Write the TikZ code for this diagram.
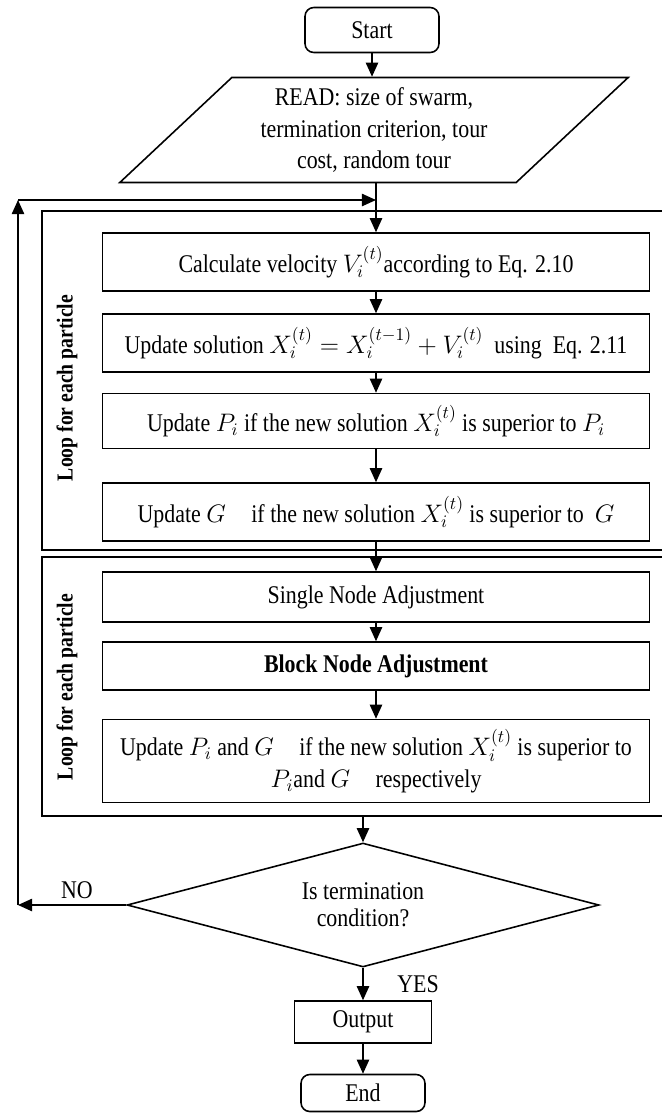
\documentclass[tikz,border=0pt]{standalone}
\usepackage{fontspec}
\setmainfont{Liberation Serif}[FakeStretch=0.86]
\usetikzlibrary{positioning,arrows.meta,shapes.geometric}

\newcommand\flowfont{\fontsize{14.5}{18}\selectfont}

\tikzset{
  base/.style={draw, line width=0.9pt, align=center, inner sep=2pt, font=\flowfont},
  procbox/.style={base, rectangle, minimum width=10.94cm},
  termbox/.style={base, rounded corners=5pt},
  iobox/.style={base, trapezium, trapezium left angle=45, trapezium right angle=135, trapezium stretches=true},
  decbox/.style={base, diamond, aspect=3.8, inner sep=0pt, font=\fontsize{14.5}{15.5}\selectfont},
  arr/.style={-{Triangle[length=8pt,width=7pt]}, line width=0.9pt},
  loopbox/.style={line width=0.9pt},
  looplab/.style={rotate=90, font=\fontsize{13}{15}\selectfont\bfseries},
  tag/.style={font=\flowfont}
}

\begin{document}
\begin{tikzpicture}[x=0.02cm, y=-0.02cm]
  \useasboundingbox (0,0) rectangle (662,1117);

  % loop frames
  \draw[loopbox] (664,211) -| (42,550) -- (664,550);
  \draw[loopbox] (664,557) -| (42,816) -- (664,816);
  \node[looplab] (lab1) at (67,388) {Loop for each particle};
  \node[looplab] (lab2) at (67,687) {Loop for each particle};

  % flow
  \node[termbox, minimum width=2.68cm, minimum height=0.9cm] (start) at (372,30) {Start};
  \node[iobox, minimum width=10.18cm, minimum height=2.1cm] (read) at (374,130)
    {READ: size of swarm,\\ termination criterion, tour\\ cost, random tour};
  \node[procbox, minimum height=1.16cm] (calc) at (376,262)
    {Calculate velocity $V_i^{(t)}$according to Eq. 2.10};
  \node[procbox, minimum height=1.16cm] (upd) at (376,343)
    {Update solution $X_i^{(t)} = X_i^{(t-1)} + V_i^{(t)}$\ \ using\ \ Eq. 2.11};
  \node[procbox, minimum height=1.1cm] (pbest) at (376,421)
    {Update $P_i$ if the new solution $X_i^{(t)}$ is superior to $P_i$};
  \node[procbox, minimum height=1.16cm] (gbest) at (376,512)
    {Update $G$\quad if the new solution $X_i^{(t)}$ is superior to\ \ $G$};
  \node[procbox, minimum height=1.0cm] (sna) at (376,597) {Single Node Adjustment};
  \node[procbox, minimum height=0.96cm, font=\flowfont\bfseries] (bna) at (376,666) {Block Node Adjustment};
  \node[procbox, minimum height=1.66cm] (both) at (376,761)
    {Update $P_i$ and $G$\quad if the new solution $X_i^{(t)}$ is superior to\\ $P_i$and $G$\quad respectively};
  \node[decbox, minimum width=9.44cm, minimum height=2.48cm] (dec) at (363,905) {Is termination\\ condition?};
  \node[base, minimum width=2.74cm, minimum height=0.84cm] (out) at (363,1022) {Output};
  \node[termbox, minimum width=2.48cm, minimum height=0.74cm] (end) at (363,1093) {End};

  \node[tag] (no) at (77,890) {NO};
  \node[tag] (yes) at (418,984) {YES};

  \coordinate (jn) at (376,200);
  \coordinate (l2s) at (363,816);
  \coordinate (lb) at (18,905);
  \coordinate (lt) at (18,200);

  \draw[arr] (start.south) -- (start.south |- read.north);
  \draw[arr] (read.south -| calc.north) -- (calc.north);
  \draw[arr] (calc) -- (upd);
  \draw[arr] (upd) -- (pbest);
  \draw[arr] (pbest) -- (gbest);
  \draw[arr] (gbest) -- (sna);
  \draw[arr] (sna) -- (bna);
  \draw[arr] (bna) -- (both);
  \draw[arr] (l2s) -- (dec.north);
  \draw[arr] (dec.south) -- (out.north);
  \draw[arr] (out) -- (end);

  % back to the loop
  \draw[arr] (dec.west) -- (lb);
  \draw[arr] (lb) -- (lt);
  \draw[arr] (lt) -- (jn);
\end{tikzpicture}
\end{document}
